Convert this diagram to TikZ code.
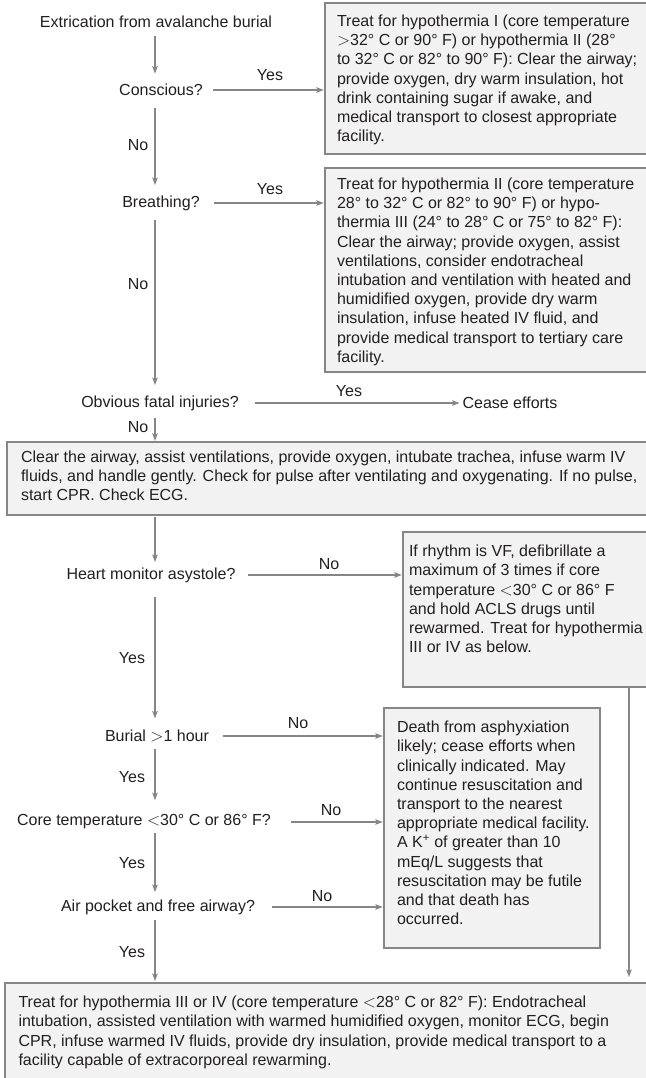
\documentclass[tikz,border=0pt]{standalone}
\usepackage{fontspec}
\setmainfont{Liberation Sans}
\usetikzlibrary{arrows.meta,calc}
\definecolor{linegray}{HTML}{868686}
\definecolor{boxfill}{HTML}{F2F2F2}
\definecolor{ink}{HTML}{231F20}
\begin{document}
\begin{tikzpicture}[x=1pt,y=-1pt,
  every node/.style={font=\fontsize{16}{19.2}\selectfont, text=ink, inner sep=0pt, outer sep=0pt},
  box/.style={draw=linegray, line width=2.2pt, fill=boxfill, anchor=north west},
  txt/.style={anchor=north west, align=left},
  q/.style={anchor=center},
  arr/.style={draw=linegray, line width=1.2pt, -{Stealth[length=7.5pt,width=5.5pt,inset=1.5pt]}}
]
\useasboundingbox[fill=white] (0,0) rectangle (645,1078);
\coordinate (spine) at (155,0);
\coordinate (rline) at (629,0);

% boxes (right edges run past the picture's edge, as in the reference)
\node[box, minimum width=325pt, minimum height=151pt] (b1) at (325,3) {};
\node[box, minimum width=325pt, minimum height=204pt] (b2) at (325,168) {};
\node[box, minimum width=643pt, minimum height=73pt] (b3) at (7,442) {};
\node[box, minimum width=247pt, minimum height=155pt] (b4) at (403,532) {};
\node[box, minimum width=216pt, minimum height=240pt] (b5) at (384,708) {};
\node[box, minimum width=645pt, minimum height=100pt] (b6) at (5,983) {};

% box texts
\node[txt] (t1) at (337,15) {Treat for hypothermia I (core temperature\\ $>$32° C or 90° F) or hypothermia II (28°\\ to 32° C or 82° to 90° F): Clear the airway;\\ provide oxygen, dry warm insulation, hot\\ drink containing sugar if awake, and\\ medical transport to closest appropriate\\ facility.};
\node[txt] (t2) at (337,178) {Treat for hypothermia II (core temperature\\ 28° to 32° C or 82° to 90° F) or hypo-\\ thermia III (24° to 28° C or 75° to 82° F):\\ Clear the airway; provide oxygen, assist\\ ventilations, consider endotracheal\\ intubation and ventilation with heated and\\ humidified oxygen, provide dry warm\\ insulation, infuse heated IV fluid, and\\ provide medical transport to tertiary care\\ facility.};
\node[txt] (t3) at (21,451) {Clear the airway, assist ventilations, provide oxygen, intubate trachea, infuse warm IV\\ fluids, and handle gently. Check for pulse after ventilating and oxygenating. If no pulse,\\ start CPR. Check ECG.};
\node[txt] (t4) at (409,545) {If rhythm is VF, defibrillate a\\ maximum of 3 times if core\\ temperature $<$30° C or 86° F\\ and hold ACLS drugs until\\ rewarmed. Treat for hypothermia\\ III or IV as below.};
\node[txt] (t5) at (397,721) {Death from asphyxiation\\ likely; cease efforts when\\ clinically indicated. May\\ continue resuscitation and\\ transport to the nearest\\ appropriate medical facility.\\ A K\textsuperscript{+} of greater than 10\\ mEq/L suggests that\\ resuscitation may be futile\\ and that death has\\ occurred.};
\node[txt] (t6) at (18.5,996) {Treat for hypothermia III or IV (core temperature $<$28° C or 82° F): Endotracheal\\ intubation, assisted ventilation with warmed humidified oxygen, monitor ECG, begin\\ CPR, infuse warmed IV fluids, provide dry insulation, provide medical transport to a\\ facility capable of extracorporeal rewarming.};

% questions
\node[q] (extr) at (156,21.7) {Extrication from avalanche burial};
\node[q] (cons) at (161,90) {Conscious?};
\node[q] (breath) at (161,203) {Breathing?};
\node[q] (fatal) at (160,403) {Obvious fatal injuries?};
\node[q] (cease) at (510,403) {Cease efforts};
\node[q] (heart) at (151,575) {Heart monitor asystole?};
\node[q] (burial) at (157,736) {Burial $>$1 hour};
\node[q] (core) at (144,822) {Core temperature $<$30° C or 86° F?};
\node[q] (air) at (158,907) {Air pocket and free airway?};

% vertical arrows
\draw[arr, shorten <=8.8pt, shorten >=10.5pt] (extr.south -| spine) -- (cons.north -| spine);
\draw[arr, shorten <=12.5pt, shorten >=10.5pt] (cons.south -| spine) -- (breath.north -| spine);
\draw[arr, shorten <=9.5pt, shorten >=10.5pt] (breath.south -| spine) -- (fatal.north -| spine);
\draw[arr, shorten <=7.5pt, shorten >=1.2pt] (fatal.south -| spine) -- (b3.north -| spine);
\draw[arr, shorten <=2pt, shorten >=5.5pt] (b3.south -| spine) -- (heart.north -| spine);
\draw[arr, shorten <=14.5pt, shorten >=11.5pt] (heart.south -| spine) -- (burial.north -| spine);
\draw[arr, shorten <=6.5pt, shorten >=14.5pt] (burial.south -| spine) -- (core.north -| spine);
\draw[arr, shorten <=3.5pt, shorten >=7.5pt] (core.south -| spine) -- (air.north -| spine);
\draw[arr, shorten <=5.5pt, shorten >=2pt] (air.south -| spine) -- (b6.north -| spine);
\draw[arr, shorten >=6pt] (b4.south -| rline) -- (b6.north -| rline);

% horizontal arrows
\draw[arr, shorten <=10pt, shorten >=1.2pt] (cons.east) -- (cons.east -| b1.west);
\draw[arr, shorten <=14pt, shorten >=1.2pt] (breath.east) -- (breath.east -| b2.west);
\draw[arr, shorten <=16pt, shorten >=3pt] (fatal.east) -- (cease.west);
\draw[arr, shorten <=13pt, shorten >=1.2pt] (heart.east) -- (heart.east -| b4.west);
\draw[arr, shorten <=14pt, shorten >=1.2pt] (burial.east) -- (burial.east -| b5.west);
\draw[arr, shorten <=20pt, shorten >=1.2pt] (core.east) -- (core.east -| b5.west);
\draw[arr, shorten <=17pt, shorten >=1.2pt] (air.east) -- (air.east -| b5.west);

% labels
\node (l1) at (270,75) {Yes};
\node (l2) at (270,189) {Yes};
\node (l3) at (349,391) {Yes};
\node (l4) at (329,564) {No};
\node (l5) at (298,723) {No};
\node (l6) at (331,810) {No};
\node (l7) at (322,896) {No};
\node (l8) at (138,145) {No};
\node (l9) at (138,284) {No};
\node (l10) at (138,427) {No};
\node (l11) at (132,658) {Yes};
\node (l12) at (132,777) {Yes};
\node (l13) at (132,863) {Yes};
\node (l14) at (132,952) {Yes};
\end{tikzpicture}
\end{document}
